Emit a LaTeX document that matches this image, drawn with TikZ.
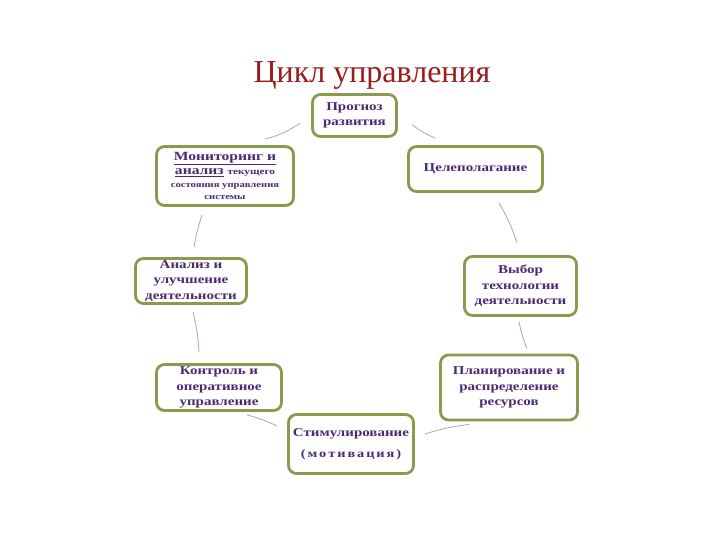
\documentclass[tikz,border=0pt]{standalone}
\usepackage{fontspec}
\setmainfont{Liberation Serif}
\newfontfamily\bxfont[FakeStretch=1.25]{Liberation Serif}
\definecolor{boxgreen}{HTML}{8A9A4E}
\definecolor{txtpurple}{HTML}{4A2A72}
\definecolor{titlered}{HTML}{9A1C1C}
\definecolor{connc}{HTML}{A7AD93}
\tikzset{
  box/.style={draw=boxgreen, line width=2.8pt, rounded corners=8pt, fill=white,
    align=center, text=txtpurple, inner sep=1pt,
    font=\bxfont\bfseries\fontsize{12}{15.5}\selectfont},
  conn/.style={draw=connc, line width=0.8pt},
}
\begin{document}
\begin{tikzpicture}[x=1pt,y=-1pt]
\useasboundingbox (0,0) rectangle (720,540);
\node[font=\fontsize{32}{36}\selectfont, text=titlered, anchor=base] (title) at (372,83) {Цикл управления};

\node[box, minimum width=84pt, minimum height=42pt] (prog) at (354.5,115.5) {Прогноз\\развития};
\node[box, minimum width=137pt, minimum height=59pt] (mon) at (225,176)
 {{\fontsize{12.5}{13}\selectfont\underline{Мониторинг и}}\\[-1pt]
  {\fontsize{12.5}{13}\selectfont\underline{анализ} {\fontsize{9}{10}\selectfont текущего}}\\[-3pt]
  {\fontsize{8.5}{10}\selectfont состояния управления}\\[-3pt]
  {\fontsize{8.5}{10}\selectfont системы}};
\node[box, minimum width=134pt, minimum height=45pt] (celep) at (475.5,169) {Целеполагание};
\node[box, minimum width=111pt, minimum height=45pt] (anal) at (191,281) {Анализ и\\улучшение\\деятельности};
\node[box, minimum width=112pt, minimum height=59pt] (vyb) at (520.5,286) {Выбор\\технологии\\деятельности};
\node[box, minimum width=125pt, minimum height=46pt] (kontr) at (219,387.5) {Контроль и\\оперативное\\управление};
\node[box, minimum width=137pt, minimum height=65pt] (plan) at (509,387.5) {Планирование и\\распределение\\ресурсов};
\node[box, minimum width=125pt, minimum height=59pt] (stim) at (351,444) {Стимулирование\\[6pt]{\fontsize{11.5}{14}\selectfont (\,м\,о\,т\,и\,в\,а\,ц\,и\,я\,)}};

\draw[conn] ([shift={(-11,7.5)}]prog.west) to[bend left=10] ([shift={(40,-6)}]mon.north);
\draw[conn] ([shift={(14,9)}]prog.east) to[bend right=8] ([shift={(-40,-7)}]celep.north);
\draw[conn] ([shift={(23.5,10)}]celep.south) to[bend left=6] ([shift={(-3.5,-12)}]vyb.north);
\draw[conn] ([shift={(-1.5,5)}]vyb.south) to[bend right=5] ([shift={(18,-5)}]plan.north);
\draw[conn] ([shift={(30,3)}]plan.south west) to[bend right=5] ([shift={(10,-10)}]stim.east);
\draw[conn] ([shift={(-10,-18)}]stim.west) to[bend right=5] ([shift={(28,3)}]kontr.south);
\draw[conn] ([shift={(-20,-11)}]kontr.north) to[bend right=5] ([shift={(2,7)}]anal.south);
\draw[conn] ([shift={(3,-10)}]anal.north) to[bend left=4] ([shift={(-23,8)}]mon.south);
\end{tikzpicture}
\end{document}
